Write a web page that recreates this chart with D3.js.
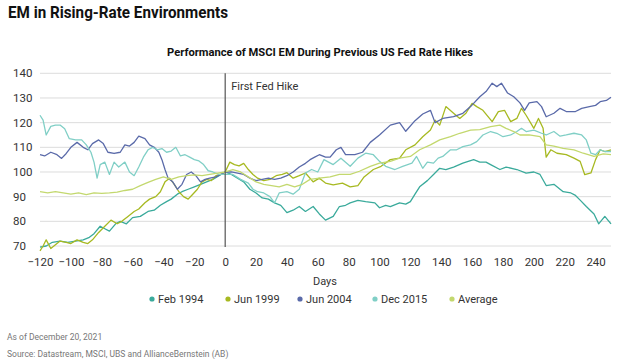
<!DOCTYPE html>
<html>
<head>
<meta charset="utf-8">
<script src="https://cdn.jsdelivr.net/npm/d3@7"></script>
<style>
  body { margin: 0; background: #fff; }
  text { font-family: Roboto, "Noto Sans", sans-serif; }
</style>
</head>
<body>
<svg width="624" height="363"></svg>
<script>
// values, [day, index]
var feb1994 = [[-120,69.5],[-116,70],[-112,71.5],[-107,72],[-102,71.5],[-97,72],[-92,72.5],[-88,73.5],[-85,75],[-81,78],[-78,77],[-75,76],[-71,79],[-68,80],[-64,79],[-60,81.5],[-55,82],[-50,84],[-46,84.5],[-42,86.5],[-38,88],[-35,89],[-31,91],[-28,92],[-24,93],[-20,94],[-16,95],[-12,96],[-8,97],[-4,98.5],[0,100],
  [4,99],[8,97.5],[12,96],[16,93],[20,91.5],[24,89.5],[28,89],[32,87.5],[36,86.5],[40,83.5],[44,84.5],[48,86],[52,84],[57,86],[61,83],[65,80.5],[70,82],[74,86],[78,86.5],[81,87.5],[86,88.5],[91,88],[97,87.5],[100,85.5],[104,86.5],[107,86],[113,87.5],[117,87],[120,88],[123,91],[126,94],[131,96.5],[135,99],[139,101.5],[143,101],[148,102],[154,103.6],[161,105],[165,104],[169,104],[172,103],[178,101],[182,102],[189,101],[195,99.5],[200,100],[204,99],[208,94.5],[213,95],[219,92],[224,91.5],[227,90.5],[230,88.6],[234,86],[239,83],[242,79],[246,82],[250,79]];
var jun1999 = [[-120,68],[-118,70],[-116,72.5],[-113,69],[-110,70.5],[-107,72],[-103,71.5],[-100,71],[-96,72.5],[-92,71.5],[-89,71],[-86,72.5],[-82,75.5],[-78,78],[-74,80.5],[-70,79],[-67,80],[-63,82],[-59,84],[-56,85],[-52,87.5],[-49,89],[-45,90],[-42,92],[-39,96],[-36,97.5],[-33,95],[-30,92],[-27,90],[-24,89],[-21,91],[-18,93],[-15,96],[-12,97],[-9,96.5],[-6,98.5],[-3,99],[0,100],
  [3,104],[6,103],[9,102.5],[12,103.5],[15,101],[18,99],[21,97.5],[25,96.5],[29,97],[33,98.5],[37,99],[40,99.7],[44,97.5],[48,98.5],[52,99.6],[57,96],[61,97.5],[65,95.5],[70,94.8],[76,95.5],[81,94],[86,94.5],[90,98],[96,101],[101,102.3],[107,105],[113,105.6],[117,109],[123,111],[128,114.3],[133,117],[136,121],[139,119],[143,126.5],[148,123.8],[152,121.7],[156,123.8],[160,127.8],[163,126.5],[167,125],[173,120.4],[177,124.5],[181,125],[185,120.4],[189,121.7],[192,125.8],[195,123],[200,117.7],[203,121.7],[206,117.7],[208,106],[211,109],[215,107.6],[221,107],[226,105.6],[230,104.3],[233,98.9],[237,99.6],[240,105],[243,109],[246,108.3],[250,109]];
var jun2004 = [[-120,107],[-117,106.5],[-113,108],[-109,107],[-106,105.5],[-103,107.5],[-100,110],[-96,112],[-92,110],[-89,109],[-86,111.5],[-82,113],[-79,111.5],[-76,108],[-72,107.5],[-68,108],[-65,111],[-62,110.5],[-59,112],[-56,114.5],[-52,113.5],[-49,111],[-46,110],[-43,108],[-41,105],[-39,101],[-37,97.5],[-34,96],[-31,93],[-28,95],[-25,99],[-22,100],[-19,98.5],[-16,96],[-13,97],[-10,97.5],[-6,98],[-3,99],[0,100],
  [4,100],[8,99.5],[12,99],[16,97.5],[20,96.5],[24,97],[28,97.5],[32,97],[36,97.5],[40,98.5],[44,100],[48,102],[52,103.5],[55,105],[58,106],[61,107],[65,106],[68,106],[72,109],[75,110],[78,107],[84,107],[89,108],[94,112],[100,115],[107,119],[113,120],[117,116.5],[123,120.8],[128,123.5],[133,125],[136,120],[141,121.7],[148,122.4],[154,123.8],[159,126.5],[165,130.5],[169,132.6],[173,136],[176,134.6],[179,136],[183,132],[187,130.5],[191,128],[194,125],[197,128],[202,128.5],[205,126.5],[208,122.4],[213,123.8],[217,125.8],[221,124.5],[227,124.5],[231,125.8],[236,126.5],[240,127],[243,128.5],[247,129],[250,130.3]];
var dec2015 = [[-120,123],[-118,121],[-116,115],[-113,118.5],[-110,119],[-107,119],[-104,117.5],[-101,113.5],[-97,113],[-93,113],[-90,111],[-87,108],[-85,104],[-83,97.5],[-81,103],[-78,104],[-75,99],[-72,104],[-69,102],[-65,104],[-62,100],[-59,98.5],[-56,102],[-53,106],[-50,109],[-47,110],[-44,109],[-41,109.5],[-38,108],[-35,108.5],[-32,110],[-29,106.5],[-26,107],[-23,106],[-20,105],[-17,104.5],[-14,103],[-11,100.5],[-8,100],[-4,99],[0,99],
  [5,99],[10,97],[15,95.5],[18,93],[21,92],[25,91.5],[29,90],[32,87.5],[35,91.5],[40,92],[44,91],[48,93],[52,99.6],[56,101],[60,100],[64,105],[70,103],[75,105.6],[81,102.3],[86,105.6],[91,107.6],[96,107],[100,104.3],[104,102.3],[110,101],[115,102.3],[121,103.6],[124,106.3],[128,101.5],[131,104],[135,103.6],[138,105.6],[141,106.3],[146,109],[150,109],[154,110.3],[159,111],[163,112.3],[167,115],[172,116.4],[176,115.7],[180,114.3],[185,115],[189,116.4],[192,117.7],[195,116.4],[200,117],[205,115.7],[208,115],[213,116.4],[217,114.5],[221,115],[226,115.7],[231,115],[234,113],[237,107.6],[240,107],[243,109],[246,108.3],[250,108.3]];
var average = [[-120,92],[-115,91.5],[-110,92],[-105,91.5],[-100,91],[-95,91.5],[-90,90.8],[-85,91.5],[-80,91.3],[-75,91.5],[-70,91.8],[-65,92.5],[-60,93],[-55,94.5],[-50,95.8],[-45,97],[-40,98],[-35,97],[-30,98],[-25,98.5],[-20,98.8],[-15,98.5],[-10,99],[-5,99.5],[0,100],
  [5,101],[10,100],[15,98],[20,96],[25,95],[30,94.5],[35,94],[40,95],[45,94],[50,95],[55,97],[61,97.5],[68,98],[74,99],[81,99],[87,100.3],[94,102.3],[100,103.6],[107,104.3],[113,105.6],[120,106.3],[126,109],[133,111],[139,113],[146,114.3],[152,115.7],[159,117],[165,117.2],[172,118.4],[178,119],[182,117.7],[187,116.4],[191,115],[197,115],[204,114.3],[208,111],[213,110.5],[219,109.6],[226,109],[232,107.6],[239,106.3],[245,107.3],[250,107]];

var seriesNames = ["Feb 1994", "Jun 1999", "Jun 2004", "Dec 2015", "Average"];
var seriesData = [feb1994, jun1999, jun2004, dec2015, average];
var colors = ["#3aaa9b", "#a7b921", "#5a6aa9", "#80cfc6", "#c3d86e"];
var xTicks = d3.range(-120, 241, 20);
var yTicks = d3.range(70, 141, 10);

var svg = d3.select("svg");

var x = d3.scaleLinear().domain([-120, 250]).range([40, 611]);
var y = d3.scaleLinear().domain([70, 140]).range([246, 73.3]);

svg.append("text").attr("x", 8).attr("y", 18)
  .attr("font-size", 17).attr("font-weight", 700).attr("fill", "#111")
  .attr("textLength", 220).attr("lengthAdjust", "spacingAndGlyphs")
  .text("EM in Rising-Rate Environments");

svg.append("text").attr("x", 167).attr("y", 56)
  .attr("font-size", 11).attr("font-weight", 700).attr("fill", "#111")
  .attr("textLength", 306).attr("lengthAdjust", "spacingAndGlyphs")
  .text("Performance of MSCI EM During Previous US Fed Rate Hikes");

// gridlines
svg.append("g").selectAll("line").data(yTicks).join("line")
  .attr("x1", 40).attr("x2", 611)
  .attr("y1", d => y(d)).attr("y2", d => y(d))
  .attr("stroke", "#dcdcdc").attr("stroke-width", 1);

// y labels
svg.append("g").selectAll("text").data(yTicks).join("text")
  .attr("x", 13).attr("y", d => y(d) + 4)
  .attr("font-size", 11.5).attr("fill", "#333")
  .text(d => d);

// x axis labels
var xAxis = d3.axisBottom(x).tickValues(xTicks).tickSize(0).tickPadding(9)
  .tickFormat(d => d < 0 ? "\u2212" + Math.abs(d) : d);
var gx = svg.append("g").attr("transform", "translate(0,249)").call(xAxis);
gx.select(".domain").remove();
gx.selectAll("text").attr("font-size", 11.5).attr("fill", "#333")
  .style("font-family", "Roboto, 'Noto Sans', sans-serif");

svg.append("text").attr("x", 325).attr("y", 285).attr("text-anchor", "middle")
  .attr("font-size", 11).attr("fill", "#333").text("Days");

// series lines
var line = d3.line().x(d => x(d[0])).y(d => y(d[1]));
svg.append("g").selectAll("path").data(seriesData).join("path")
  .attr("d", line).attr("fill", "none")
  .attr("stroke", (d, i) => colors[i]).attr("stroke-width", 1.3)
  .attr("stroke-linejoin", "round");

// first hike marker
svg.append("line").attr("x1", x(0)).attr("x2", x(0))
  .attr("y1", y(140)).attr("y2", y(70) + 1)
  .attr("stroke", "#555").attr("stroke-width", 1.2);
svg.append("text").attr("x", x(0) + 6).attr("y", 90)
  .attr("font-size", 11).attr("fill", "#333").text("First Fed Hike");

// legend
var legendX = [152, 228, 300, 375, 452];
var lg = svg.append("g").selectAll("g").data(seriesNames).join("g")
  .attr("transform", (d, i) => "translate(" + legendX[i] + ",299)");
lg.append("circle").attr("r", 2.6).attr("fill", (d, i) => colors[i]);
lg.append("text").attr("x", 6).attr("y", 4).attr("font-size", 11)
  .attr("fill", "#333").text(d => d);

svg.append("text").attr("x", 7).attr("y", 340).attr("font-size", 8.5)
  .attr("fill", "#777").text("As of December 20, 2021");
svg.append("text").attr("x", 7).attr("y", 357).attr("font-size", 8.5)
  .attr("fill", "#777").text("Source: Datastream, MSCI, UBS and AllianceBernstein (AB)");
</script>
</body>
</html>
